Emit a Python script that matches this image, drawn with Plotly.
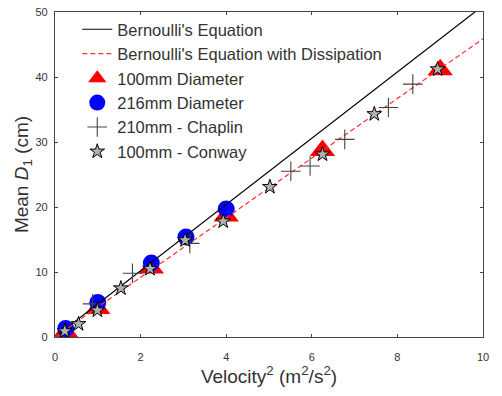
import plotly.graph_objects as go

# ---- data ----
line_x = [0, 10]
g = 9.81
bern_slope = 100 / (2 * g)          # cm per (m^2/s^2)
dissip_slope = 0.9 * bern_slope
bern_y = [v * bern_slope for v in line_x]
dissip_y = [v * dissip_slope for v in line_x]

d100_x = [0.25, 1.0, 2.25, 4.0, 6.25, 9.0]
d100_y = [0.8, 4.4, 10.6, 18.6, 28.7, 41.1]

d216_x = [0.25, 1.0, 2.25, 3.06, 4.0]
d216_y = [1.3, 5.3, 11.4, 15.4, 19.7]

chap_x = [0.88, 1.81, 3.15, 5.51, 5.96, 6.77, 7.79, 8.36]
chap_y = [5.1, 9.8, 14.4, 25.5, 26.3, 30.4, 35.3, 38.9]

conw_x = [0.23, 0.55, 0.99, 1.54, 2.22, 3.04, 3.93, 5.02, 6.25, 7.46, 8.94]
conw_y = [0.9, 2.0, 4.1, 7.5, 10.5, 14.9, 17.8, 23.1, 28.1, 34.3, 41.2]

x_ticks = [0, 2, 4, 6, 8, 10]
y_ticks = [0, 10, 20, 30, 40, 50]

FONT = "Liberation Sans, Arial, sans-serif"

fig = go.Figure()

fig.add_trace(go.Scatter(x=d100_x, y=d100_y, mode="markers", name="100mm Diameter",
                         legendgroup="c", legendrank=3,
                         marker=dict(symbol="triangle-up", size=22, color="#ff0000",
                                     line=dict(width=0))))
fig.add_trace(go.Scatter(x=d216_x, y=d216_y, mode="markers", name="216mm Diameter",
                         legendgroup="d", legendrank=4,
                         marker=dict(symbol="circle", size=17, color="#0000ff",
                                     line=dict(width=0))))
fig.add_trace(go.Scatter(x=line_x, y=bern_y, mode="lines", name="Bernoulli's Equation",
                         legendgroup="a", legendrank=1,
                         line=dict(color="black", width=1.2)))
fig.add_trace(go.Scatter(x=line_x, y=dissip_y, mode="lines",
                         name="Bernoulli's Equation with Dissipation",
                         legendgroup="b", legendrank=2,
                         line=dict(color="#ff3030", width=1.2, dash="5px,3px")))
fig.add_trace(go.Scatter(x=chap_x, y=chap_y, mode="markers", name="210mm - Chaplin",
                         legendgroup="e", legendrank=5,
                         marker=dict(symbol="cross-thin", size=14,
                                     line=dict(width=1.1, color="#444444"))))
fig.add_trace(go.Scatter(x=conw_x, y=conw_y, mode="markers", name="100mm - Conway",
                         legendgroup="f", legendrank=6,
                         marker=dict(symbol="star", size=11, color="#b0b0b0",
                                     line=dict(width=1, color="black"))))

axis_common = dict(showline=True, linecolor="#444444", linewidth=1.3, mirror="ticks",
                   ticks="inside", ticklen=3, tickcolor="#444444", showgrid=False,
                   zeroline=False, ticklabeloverflow="allow",
                   tickfont=dict(size=11, color="#333333", family=FONT))

fig.update_xaxes(range=[0, 10], tickvals=x_ticks, ticklabelstandoff=10,
                 title=dict(text="Velocity<sup>2</sup> (m<sup>2</sup>/s<sup>2</sup>)",
                            font=dict(size=19, color="#333333", family=FONT), standoff=5),
                 **axis_common)
fig.update_yaxes(range=[0, 50], tickvals=y_ticks, ticklabelstandoff=4,
                 title=dict(text="Mean <i>D</i><sub>1</sub> (cm)",
                            font=dict(size=19, color="#333333", family=FONT), standoff=1),
                 **axis_common)

fig.update_layout(
    width=502, height=396,
    margin=dict(l=55, r=19, t=6, b=59),
    paper_bgcolor="white", plot_bgcolor="white",
    font=dict(family=FONT, color="#333333"),
    legend=dict(x=0.052, y=1.0, xanchor="left", yanchor="top",
                font=dict(size=16.5, color="#333333", family=FONT),
                bgcolor="rgba(0,0,0,0)", tracegroupgap=0, traceorder="grouped"),
)

fig.write_html("out.html")
